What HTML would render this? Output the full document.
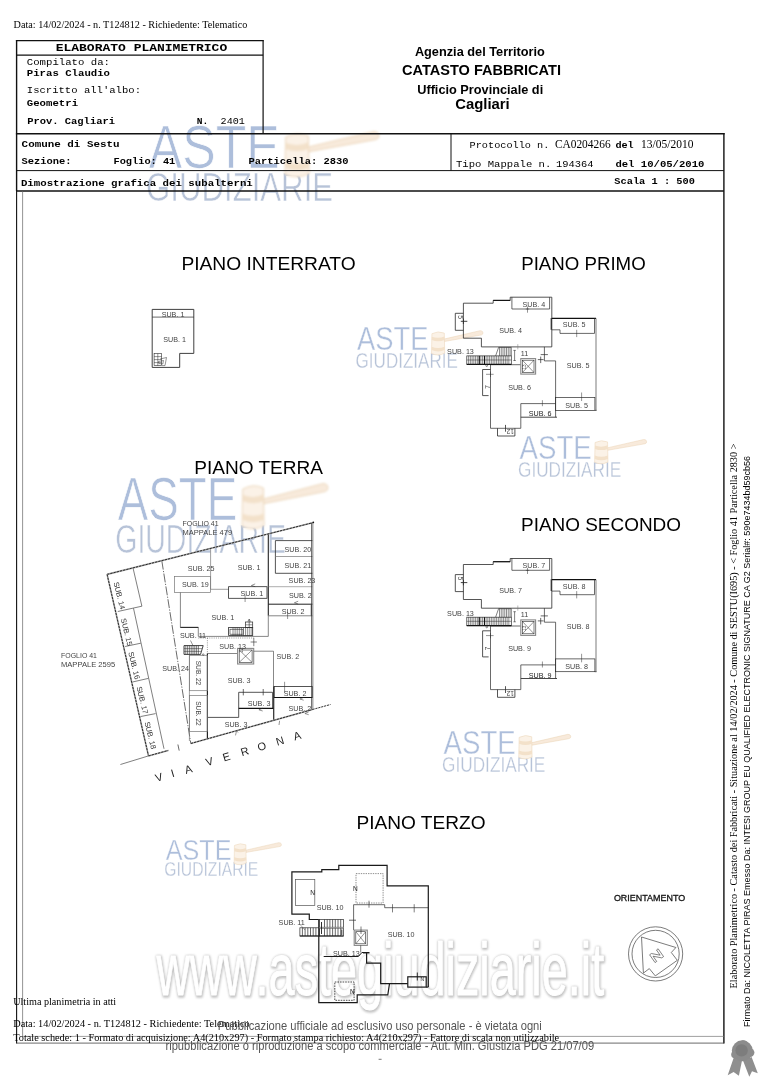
<!DOCTYPE html>
<html lang="it"><head><meta charset="utf-8"><title>Elaborato Planimetrico</title>
<style>html,body{margin:0;padding:0;background:#fff}body{width:764px;height:1080px;overflow:hidden;font-family:"Liberation Sans",sans-serif}svg{will-change:transform}svg text{white-space:pre}</style></head>
<body>
<svg width="764" height="1080" viewBox="0 0 764 1080" style="display:block">
<defs>
<filter id="thin" x="-5%" y="-20%" width="110%" height="140%"><feMorphology operator="erode" radius="0.35"/></filter>
<filter id="soft" x="-10%" y="-10%" width="130%" height="130%"><feGaussianBlur stdDeviation="0.5"/></filter>
<filter id="wsh" x="-5%" y="-20%" width="110%" height="150%"><feGaussianBlur stdDeviation="1.15"/></filter>
</defs>
<rect x="0" y="0" width="764" height="1080" fill="#fff"/>
<g transform="translate(147.7 125.9) scale(1.83 1.87)">
 <text x="0.6" y="22.4" font-family="Liberation Sans, sans-serif" font-size="32.6" fill="#adbedb" textLength="71.5" lengthAdjust="spacingAndGlyphs" stroke="#fff" stroke-width="0.4">ASTE</text>
 <text x="-0.9" y="40.2" font-family="Liberation Sans, sans-serif" font-size="21.8" fill="#b7c3d8" textLength="102.2" lengthAdjust="spacingAndGlyphs" stroke="#fff" stroke-width="0.3">GIUDIZIARIE</text>
 <g filter="url(#soft)" stroke="#ead3b4" stroke-width="0.5">
  <path d="M87.4 11.4 L123.6 3.0 Q127.2 3.2 126.2 6.4 Q125.4 7.4 123 7.6 L87.8 13.8 Z" fill="#f8eadb"/>
  <path d="M75.4 6 Q81.6 2.8 87.8 5.4 L88.2 25.4 Q81.6 29 75 25.8 Z" fill="#fbf2e7"/>
  <path d="M75.3 9 Q81.6 11.4 87.9 8.8 L88 12.4 Q81.6 14.8 75.2 12.4 Z" fill="#f3e1ca" stroke="none"/>
  <path d="M75.1 19 Q81.6 21.4 88.1 19 L88.2 22.4 Q81.6 25 75 22.4 Z" fill="#f3e1ca" stroke="none"/>
 </g>
</g>
<g transform="translate(356.5 327.7) scale(1 1)">
 <text x="0.6" y="22.4" font-family="Liberation Sans, sans-serif" font-size="32.6" fill="#adbedb" textLength="71.5" lengthAdjust="spacingAndGlyphs" stroke="#fff" stroke-width="0.4">ASTE</text>
 <text x="-0.9" y="40.2" font-family="Liberation Sans, sans-serif" font-size="21.8" fill="#b7c3d8" textLength="102.2" lengthAdjust="spacingAndGlyphs" stroke="#fff" stroke-width="0.3">GIUDIZIARIE</text>
 <g filter="url(#soft)" stroke="#ead3b4" stroke-width="0.5">
  <path d="M87.4 11.4 L123.6 3.0 Q127.2 3.2 126.2 6.4 Q125.4 7.4 123 7.6 L87.8 13.8 Z" fill="#f8eadb"/>
  <path d="M75.4 6 Q81.6 2.8 87.8 5.4 L88.2 25.4 Q81.6 29 75 25.8 Z" fill="#fbf2e7"/>
  <path d="M75.3 9 Q81.6 11.4 87.9 8.8 L88 12.4 Q81.6 14.8 75.2 12.4 Z" fill="#f3e1ca" stroke="none"/>
  <path d="M75.1 19 Q81.6 21.4 88.1 19 L88.2 22.4 Q81.6 25 75 22.4 Z" fill="#f3e1ca" stroke="none"/>
 </g>
</g>
<g transform="translate(518.9 436.5) scale(1.01 1)">
 <text x="0.6" y="22.4" font-family="Liberation Sans, sans-serif" font-size="32.6" fill="#adbedb" textLength="71.5" lengthAdjust="spacingAndGlyphs" stroke="#fff" stroke-width="0.4">ASTE</text>
 <text x="-0.9" y="40.2" font-family="Liberation Sans, sans-serif" font-size="21.8" fill="#b7c3d8" textLength="102.2" lengthAdjust="spacingAndGlyphs" stroke="#fff" stroke-width="0.3">GIUDIZIARIE</text>
 <g filter="url(#soft)" stroke="#ead3b4" stroke-width="0.5">
  <path d="M87.4 11.4 L123.6 3.0 Q127.2 3.2 126.2 6.4 Q125.4 7.4 123 7.6 L87.8 13.8 Z" fill="#f8eadb"/>
  <path d="M75.4 6 Q81.6 2.8 87.8 5.4 L88.2 25.4 Q81.6 29 75 25.8 Z" fill="#fbf2e7"/>
  <path d="M75.3 9 Q81.6 11.4 87.9 8.8 L88 12.4 Q81.6 14.8 75.2 12.4 Z" fill="#f3e1ca" stroke="none"/>
  <path d="M75.1 19 Q81.6 21.4 88.1 19 L88.2 22.4 Q81.6 25 75 22.4 Z" fill="#f3e1ca" stroke="none"/>
 </g>
</g>
<g transform="translate(116.8 477.9) scale(1.67 1.87)">
 <text x="0.6" y="22.4" font-family="Liberation Sans, sans-serif" font-size="32.6" fill="#adbedb" textLength="71.5" lengthAdjust="spacingAndGlyphs" stroke="#fff" stroke-width="0.4">ASTE</text>
 <text x="-0.9" y="40.2" font-family="Liberation Sans, sans-serif" font-size="21.8" fill="#b7c3d8" textLength="102.2" lengthAdjust="spacingAndGlyphs" stroke="#fff" stroke-width="0.3">GIUDIZIARIE</text>
 <g filter="url(#soft)" stroke="#ead3b4" stroke-width="0.5">
  <path d="M87.4 11.4 L123.6 3.0 Q127.2 3.2 126.2 6.4 Q125.4 7.4 123 7.6 L87.8 13.8 Z" fill="#f8eadb"/>
  <path d="M75.4 6 Q81.6 2.8 87.8 5.4 L88.2 25.4 Q81.6 29 75 25.8 Z" fill="#fbf2e7"/>
  <path d="M75.3 9 Q81.6 11.4 87.9 8.8 L88 12.4 Q81.6 14.8 75.2 12.4 Z" fill="#f3e1ca" stroke="none"/>
  <path d="M75.1 19 Q81.6 21.4 88.1 19 L88.2 22.4 Q81.6 25 75 22.4 Z" fill="#f3e1ca" stroke="none"/>
 </g>
</g>
<g transform="translate(443 731.3) scale(1.01 1.01)">
 <text x="0.6" y="22.4" font-family="Liberation Sans, sans-serif" font-size="32.6" fill="#adbedb" textLength="71.5" lengthAdjust="spacingAndGlyphs" stroke="#fff" stroke-width="0.4">ASTE</text>
 <text x="-0.9" y="40.2" font-family="Liberation Sans, sans-serif" font-size="21.8" fill="#b7c3d8" textLength="102.2" lengthAdjust="spacingAndGlyphs" stroke="#fff" stroke-width="0.3">GIUDIZIARIE</text>
 <g filter="url(#soft)" stroke="#ead3b4" stroke-width="0.5">
  <path d="M87.4 11.4 L123.6 3.0 Q127.2 3.2 126.2 6.4 Q125.4 7.4 123 7.6 L87.8 13.8 Z" fill="#f8eadb"/>
  <path d="M75.4 6 Q81.6 2.8 87.8 5.4 L88.2 25.4 Q81.6 29 75 25.8 Z" fill="#fbf2e7"/>
  <path d="M75.3 9 Q81.6 11.4 87.9 8.8 L88 12.4 Q81.6 14.8 75.2 12.4 Z" fill="#f3e1ca" stroke="none"/>
  <path d="M75.1 19 Q81.6 21.4 88.1 19 L88.2 22.4 Q81.6 25 75 22.4 Z" fill="#f3e1ca" stroke="none"/>
 </g>
</g>
<g transform="translate(165.1 839.9) scale(0.92 0.91)">
 <text x="0.6" y="22.4" font-family="Liberation Sans, sans-serif" font-size="32.6" fill="#adbedb" textLength="71.5" lengthAdjust="spacingAndGlyphs" stroke="#fff" stroke-width="0.4">ASTE</text>
 <text x="-0.9" y="40.2" font-family="Liberation Sans, sans-serif" font-size="21.8" fill="#b7c3d8" textLength="102.2" lengthAdjust="spacingAndGlyphs" stroke="#fff" stroke-width="0.3">GIUDIZIARIE</text>
 <g filter="url(#soft)" stroke="#ead3b4" stroke-width="0.5">
  <path d="M87.4 11.4 L123.6 3.0 Q127.2 3.2 126.2 6.4 Q125.4 7.4 123 7.6 L87.8 13.8 Z" fill="#f8eadb"/>
  <path d="M75.4 6 Q81.6 2.8 87.8 5.4 L88.2 25.4 Q81.6 29 75 25.8 Z" fill="#fbf2e7"/>
  <path d="M75.3 9 Q81.6 11.4 87.9 8.8 L88 12.4 Q81.6 14.8 75.2 12.4 Z" fill="#f3e1ca" stroke="none"/>
  <path d="M75.1 19 Q81.6 21.4 88.1 19 L88.2 22.4 Q81.6 25 75 22.4 Z" fill="#f3e1ca" stroke="none"/>
 </g>
</g>
<text x="156.9" y="995.7" font-family="Liberation Sans, sans-serif" font-size="74" lengthAdjust="spacingAndGlyphs" stroke-linejoin="round" textLength="100.4" fill="#888" stroke="#888" stroke-width="3.4" opacity="0.5" filter="url(#wsh)">www</text>
<text x="256.1" y="995.7" font-family="Liberation Sans, sans-serif" font-size="74" lengthAdjust="spacingAndGlyphs" stroke-linejoin="round" textLength="348.6" fill="#888" stroke="#888" stroke-width="3.4" opacity="0.5" filter="url(#wsh)">.astegiudiziarie.it</text>
<text x="156.4" y="995" font-family="Liberation Sans, sans-serif" font-size="74" lengthAdjust="spacingAndGlyphs" stroke-linejoin="round" textLength="100.4" fill="#fff" stroke="#fff" stroke-width="0.9">www</text>
<text x="255.6" y="995" font-family="Liberation Sans, sans-serif" font-size="74" lengthAdjust="spacingAndGlyphs" stroke-linejoin="round" textLength="348.6" fill="#fff" stroke="#fff" stroke-width="0.9">.astegiudiziarie.it</text>
<line x1="16.6" y1="40.1" x2="16.6" y2="191" stroke="#111" stroke-width="1.4" />
<line x1="16.6" y1="191" x2="16.6" y2="1043.5" stroke="#111" stroke-width="1.1" />
<line x1="15.9" y1="40.6" x2="263.8" y2="40.6" stroke="#111" stroke-width="1.1" />
<line x1="263.1" y1="40.6" x2="263.1" y2="133.8" stroke="#111" stroke-width="1.2" />
<line x1="16.6" y1="55.1" x2="263.1" y2="55.1" stroke="#111" stroke-width="1.2" />
<line x1="15.9" y1="133.8" x2="724.6" y2="133.8" stroke="#111" stroke-width="1.4" />
<line x1="723.9" y1="133.1" x2="723.9" y2="1043.5" stroke="#111" stroke-width="1.4" />
<line x1="16.6" y1="170.6" x2="723.9" y2="170.6" stroke="#111" stroke-width="1.0" />
<line x1="16.6" y1="191" x2="723.9" y2="191" stroke="#111" stroke-width="1.3" />
<line x1="451" y1="133.8" x2="451" y2="170.6" stroke="#111" stroke-width="1.0" />
<line x1="22.6" y1="191" x2="22.6" y2="1036.4" stroke="#666" stroke-width="0.7" />
<line x1="22.6" y1="1036.4" x2="723.9" y2="1036.4" stroke="#777" stroke-width="0.7" />
<line x1="16.6" y1="1043.1" x2="723.9" y2="1043.1" stroke="#444" stroke-width="0.8" />
<text x="13.6" y="27.6" font-family="Liberation Serif, serif" font-size="9.6" fill="#000" textLength="233.7" lengthAdjust="spacingAndGlyphs" >Data: 14/02/2024 - n. T124812 - Richiedente: Telematico</text>
<text x="55.7" y="51.4" font-family="Liberation Mono, monospace" font-size="10.2" fill="#000" textLength="171.5" lengthAdjust="spacingAndGlyphs" font-weight="bold" >ELABORATO PLANIMETRICO</text>
<text x="26.8" y="65.4" font-family="Liberation Mono, monospace" font-size="8.9" fill="#000" textLength="83.2" lengthAdjust="spacingAndGlyphs" >Compilato da:</text>
<text x="26.8" y="76.4" font-family="Liberation Mono, monospace" font-size="9.2" fill="#000" textLength="83.2" lengthAdjust="spacingAndGlyphs" font-weight="bold" >Piras Claudio</text>
<text x="26.8" y="92.9" font-family="Liberation Mono, monospace" font-size="8.9" fill="#000" textLength="114.2" lengthAdjust="spacingAndGlyphs" >Iscritto all'albo:</text>
<text x="26.8" y="106" font-family="Liberation Mono, monospace" font-size="9.2" fill="#000" textLength="51.3" lengthAdjust="spacingAndGlyphs" font-weight="bold" >Geometri</text>
<text x="27.2" y="123.6" font-family="Liberation Mono, monospace" font-size="9.2" fill="#000" textLength="87.8" lengthAdjust="spacingAndGlyphs" font-weight="bold" >Prov. Cagliari</text>
<text x="196.8" y="123.6" font-family="Liberation Mono, monospace" font-size="9.2" fill="#000" textLength="11.5" lengthAdjust="spacingAndGlyphs" font-weight="bold" >N.</text>
<text x="220.6" y="123.6" font-family="Liberation Mono, monospace" font-size="8.9" fill="#000" textLength="24.2" lengthAdjust="spacingAndGlyphs" >2401</text>
<text x="21.6" y="147.3" font-family="Liberation Mono, monospace" font-size="9.2" fill="#000" textLength="98" lengthAdjust="spacingAndGlyphs" font-weight="bold" >Comune di Sestu</text>
<text x="21.6" y="163.9" font-family="Liberation Mono, monospace" font-size="9.2" fill="#000" textLength="50" lengthAdjust="spacingAndGlyphs" font-weight="bold" >Sezione:</text>
<text x="113.5" y="163.9" font-family="Liberation Mono, monospace" font-size="9.2" fill="#000" textLength="61.8" lengthAdjust="spacingAndGlyphs" font-weight="bold" >Foglio: 41</text>
<text x="248.4" y="163.9" font-family="Liberation Mono, monospace" font-size="9.2" fill="#000" textLength="100" lengthAdjust="spacingAndGlyphs" font-weight="bold" >Particella: 2830</text>
<text x="20.9" y="185.5" font-family="Liberation Mono, monospace" font-size="9.2" fill="#000" textLength="231.9" lengthAdjust="spacingAndGlyphs" font-weight="bold" >Dimostrazione grafica dei subalterni</text>
<text x="479.9" y="56" font-family="Liberation Sans, sans-serif" font-size="12.2" fill="#000" text-anchor="middle" textLength="130" lengthAdjust="spacingAndGlyphs" font-weight="bold" >Agenzia del Territorio</text>
<text x="481.5" y="74.6" font-family="Liberation Sans, sans-serif" font-size="14" fill="#000" text-anchor="middle" textLength="159" lengthAdjust="spacingAndGlyphs" font-weight="bold" >CATASTO FABBRICATI</text>
<text x="480.2" y="93.6" font-family="Liberation Sans, sans-serif" font-size="12.2" fill="#000" text-anchor="middle" textLength="126" lengthAdjust="spacingAndGlyphs" font-weight="bold" >Ufficio Provinciale di</text>
<text x="482.5" y="108.6" font-family="Liberation Sans, sans-serif" font-size="14" fill="#000" text-anchor="middle" textLength="54.5" lengthAdjust="spacingAndGlyphs" font-weight="bold" >Cagliari</text>
<text x="469.6" y="147.8" font-family="Liberation Mono, monospace" font-size="8.9" fill="#000" textLength="79.8" lengthAdjust="spacingAndGlyphs" >Protocollo n.</text>
<text x="554.9" y="147.8" font-family="Liberation Serif, serif" font-size="12.4" fill="#000" textLength="55.7" lengthAdjust="spacingAndGlyphs" >CA0204266</text>
<text x="615.4" y="147.8" font-family="Liberation Mono, monospace" font-size="9.2" fill="#000" textLength="18.3" lengthAdjust="spacingAndGlyphs" font-weight="bold" >del</text>
<text x="641" y="147.8" font-family="Liberation Serif, serif" font-size="12.4" fill="#000" textLength="52.4" lengthAdjust="spacingAndGlyphs" >13/05/2010</text>
<text x="456" y="166.6" font-family="Liberation Mono, monospace" font-size="8.9" fill="#000" textLength="95.3" lengthAdjust="spacingAndGlyphs" >Tipo Mappale n.</text>
<text x="556" y="166.6" font-family="Liberation Mono, monospace" font-size="8.9" fill="#000" textLength="37.4" lengthAdjust="spacingAndGlyphs" >194364</text>
<text x="615.4" y="166.6" font-family="Liberation Mono, monospace" font-size="9.2" fill="#000" textLength="89" lengthAdjust="spacingAndGlyphs" font-weight="bold" >del 10/05/2010</text>
<text x="614.3" y="184.3" font-family="Liberation Mono, monospace" font-size="9.2" fill="#000" textLength="80.6" lengthAdjust="spacingAndGlyphs" font-weight="bold" >Scala 1 : 500</text>
<text x="13.2" y="1004.7" font-family="Liberation Serif, serif" font-size="9.6" fill="#000" textLength="103" lengthAdjust="spacingAndGlyphs" >Ultima planimetria in atti</text>
<text x="13.2" y="1026.7" font-family="Liberation Serif, serif" font-size="9.6" fill="#000" textLength="236.5" lengthAdjust="spacingAndGlyphs" >Data: 14/02/2024 - n. T124812 - Richiedente: Telematico</text>
<text x="13.2" y="1040.7" font-family="Liberation Serif, serif" font-size="9.6" fill="#000" textLength="546" lengthAdjust="spacingAndGlyphs" >Totale schede: 1 - Formato di acquisizione: A4(210x297) - Formato stampa richiesto: A4(210x297) - Fattore di scala non utilizzabile</text>
<text x="379.8" y="1030" font-family="Liberation Sans, sans-serif" font-size="12.6" fill="#555" text-anchor="middle" textLength="324" lengthAdjust="spacingAndGlyphs" >Pubblicazione ufficiale ad esclusivo uso personale - è vietata ogni</text>
<text x="379.8" y="1049.5" font-family="Liberation Sans, sans-serif" font-size="12.6" fill="#555" text-anchor="middle" textLength="428.6" lengthAdjust="spacingAndGlyphs" >ripubblicazione o riproduzione a scopo commerciale - Aut. Min. Giustizia PDG 21/07/09</text>
<line x1="378.6" y1="1059.3" x2="381.6" y2="1059.3" stroke="#555" stroke-width="0.8" />
<text x="737" y="988.4" font-family="Liberation Serif, serif" font-size="10.3" fill="#000" textLength="544.8" lengthAdjust="spacingAndGlyphs" transform="rotate(-90 737 988.4)" >Elaborato Planimetrico - Catasto dei Fabbricati - Situazione al 14/02/2024 - Comune di SESTU(I695) - &lt; Foglio 41 Particella 2830 &gt;</text>
<text x="749.9" y="1027" font-family="Liberation Sans, sans-serif" font-size="9.6" fill="#000" textLength="571" lengthAdjust="spacingAndGlyphs" transform="rotate(-90 749.9 1027)" >Firmato Da: NICOLETTA PIRAS Emesso Da: INTESI GROUP EU QUALIFIED ELECTRONIC SIGNATURE CA G2 Serial#: 590e7434bd59cb56</text>
<text x="181.4" y="270.2" font-family="Liberation Sans, sans-serif" font-size="18.3" fill="#000" textLength="174.3" lengthAdjust="spacingAndGlyphs" >PIANO INTERRATO</text>
<text x="521.2" y="270" font-family="Liberation Sans, sans-serif" font-size="18.3" fill="#000" textLength="124.5" lengthAdjust="spacingAndGlyphs" >PIANO PRIMO</text>
<text x="194.2" y="474.3" font-family="Liberation Sans, sans-serif" font-size="18.3" fill="#000" textLength="128.8" lengthAdjust="spacingAndGlyphs" >PIANO TERRA</text>
<text x="521" y="530.9" font-family="Liberation Sans, sans-serif" font-size="18.3" fill="#000" textLength="160" lengthAdjust="spacingAndGlyphs" >PIANO SECONDO</text>
<text x="356.4" y="828.6" font-family="Liberation Sans, sans-serif" font-size="18.3" fill="#000" textLength="129.2" lengthAdjust="spacingAndGlyphs" >PIANO TERZO</text>
<polygon points="152.2,309.4 193.8,309.4 193.8,353.4 179.7,353.4 179.7,367.4 152.2,367.4" fill="none" stroke="#2a2a2a" stroke-width="0.9" />
<line x1="152.2" y1="317.1" x2="193.8" y2="317.1" stroke="#2a2a2a" stroke-width="0.7" />
<text transform="translate(173 317.47) scale(0.92 1)" x="0" y="0" font-family="Liberation Sans, sans-serif" font-size="7.81" fill="#444" text-anchor="middle">SUB. 1</text>
<text transform="translate(174.6 342.07) scale(0.92 1)" x="0" y="0" font-family="Liberation Sans, sans-serif" font-size="7.81" fill="#444" text-anchor="middle">SUB. 1</text>
<rect x="154.1" y="353.6" width="7.4" height="12" fill="none" stroke="#2a2a2a" stroke-width="0.6" />
<line x1="154.1" y1="356.6" x2="161.5" y2="356.6" stroke="#2a2a2a" stroke-width="0.5" />
<line x1="154.1" y1="359.6" x2="161.5" y2="359.6" stroke="#2a2a2a" stroke-width="0.5" />
<line x1="154.1" y1="362.6" x2="161.5" y2="362.6" stroke="#2a2a2a" stroke-width="0.5" />
<line x1="157.8" y1="353.6" x2="157.8" y2="365.6" stroke="#2a2a2a" stroke-width="0.5" />
<polyline points="160,359 166.5,357.5 165,365.6 161.5,365.6" fill="none" stroke="#2a2a2a" stroke-width="0.5" />
<polygon points="158.5,361.5 163.5,360.5 162.8,364 158.8,363.5" fill="none" stroke="#2a2a2a" stroke-width="0.5" />
<polygon points="463.4,303.2 493.2,303.2 493.2,300.4 510.2,300.4 510.2,297.2 551.8,297.2 551.8,346.9 481.4,346.9 481.4,338.2 463.4,338.2" fill="none" stroke="#2a2a2a" stroke-width="0.8" />
<line x1="493.2" y1="300.4" x2="510.2" y2="300.4" stroke="#111" stroke-width="1.1" />
<polyline points="511.9,297.2 511.9,309 549.6,309 549.6,297.2" fill="none" stroke="#2a2a2a" stroke-width="0.7" />
<polyline points="463.4,313.3 455.3,313.3 455.3,330.3 463.4,330.3" fill="none" stroke="#2a2a2a" stroke-width="0.8" />
<line x1="460.8" y1="321.3" x2="467.3" y2="321.3" stroke="#111" stroke-width="0.8" />
<line x1="463.4" y1="318.5" x2="463.4" y2="324" stroke="#2a2a2a" stroke-width="0.9" />
<text transform="translate(460.2 317) rotate(90)" x="0" y="2.38" font-family="Liberation Sans, sans-serif" font-size="6.6" fill="#444" text-anchor="middle">5</text>
<line x1="551.8" y1="318.3" x2="596" y2="318.3" stroke="#111" stroke-width="1.2" />
<line x1="551.3" y1="318" x2="551.3" y2="329.8" stroke="#333" stroke-width="1.3" />
<polyline points="594.5,318.3 594.5,333.4 560,333.4 560,329.8 551.8,329.8" fill="none" stroke="#2a2a2a" stroke-width="0.7" />
<line x1="596" y1="318.3" x2="596" y2="410.4" stroke="#444" stroke-width="0.7" />
<rect x="555.6" y="397.6" width="39.3" height="12.8" fill="none" stroke="#2a2a2a" stroke-width="0.7" />
<line x1="594.9" y1="410.4" x2="596.6" y2="410.4" stroke="#2a2a2a" stroke-width="0.7" />
<polyline points="544.4,346.9 544.4,360.9 555.6,360.9 555.6,417.2" fill="none" stroke="#2a2a2a" stroke-width="0.7" />
<polyline points="520.8,364.7 490.5,364.7 490.5,428.3 520.8,428.3 520.8,403.6 555.6,403.6" fill="none" stroke="#2a2a2a" stroke-width="0.7" />
<line x1="520.8" y1="417.2" x2="557" y2="417.2" stroke="#333" stroke-width="0.9" />
<rect x="520.8" y="358.6" width="14.8" height="15.5" fill="none" stroke="#888" stroke-width="1.1" />
<rect x="522.4" y="360.2" width="11.6" height="12.3" fill="none" stroke="#2a2a2a" stroke-width="0.6" />
<line x1="522.4" y1="360.2" x2="534" y2="372.5" stroke="#2a2a2a" stroke-width="0.5" />
<line x1="522.4" y1="372.5" x2="534" y2="360.2" stroke="#2a2a2a" stroke-width="0.5" />
<polyline points="497.5,428.3 497.5,436 514.9,436 514.9,428.3" fill="none" stroke="#2a2a2a" stroke-width="0.8" />
<line x1="505.5" y1="424.9" x2="505.5" y2="431.7" stroke="#2a2a2a" stroke-width="0.8" />
<text transform="translate(510.3 431.6) rotate(180)" x="0" y="2.38" font-family="Liberation Sans, sans-serif" font-size="6.6" fill="#444" text-anchor="middle">12</text>
<polyline points="490.5,369.5 482.6,369.5 482.6,395.6 488.6,395.6" fill="none" stroke="#2a2a2a" stroke-width="0.8" />
<line x1="486" y1="374.3" x2="493.6" y2="374.3" stroke="#2a2a2a" stroke-width="0.5" />
<line x1="490.5" y1="371.5" x2="490.5" y2="377" stroke="#2a2a2a" stroke-width="0.5" />
<text transform="translate(487.5 387) rotate(-90)" x="0" y="2.38" font-family="Liberation Sans, sans-serif" font-size="6.6" fill="#444" text-anchor="middle">7</text>
<rect x="466.8" y="355.9" width="44.5" height="8.5" fill="none" stroke="#2a2a2a" stroke-width="0.7" />
<line x1="466.8" y1="364.4" x2="511.3" y2="364.4" stroke="#111" stroke-width="1.2" />
<line x1="466.8" y1="360" x2="511.3" y2="360" stroke="#2a2a2a" stroke-width="0.5" />
<line x1="468.6" y1="355.9" x2="468.6" y2="364.4" stroke="#2a2a2a" stroke-width="0.55" />
<line x1="470.35" y1="355.9" x2="470.35" y2="364.4" stroke="#2a2a2a" stroke-width="0.55" />
<line x1="472.1" y1="355.9" x2="472.1" y2="364.4" stroke="#2a2a2a" stroke-width="0.55" />
<line x1="473.85" y1="355.9" x2="473.85" y2="364.4" stroke="#2a2a2a" stroke-width="0.55" />
<line x1="475.6" y1="355.9" x2="475.6" y2="364.4" stroke="#2a2a2a" stroke-width="0.55" />
<line x1="477.35" y1="355.9" x2="477.35" y2="364.4" stroke="#2a2a2a" stroke-width="0.55" />
<line x1="479.1" y1="355.9" x2="479.1" y2="364.4" stroke="#2a2a2a" stroke-width="0.55" />
<line x1="480.85" y1="355.9" x2="480.85" y2="364.4" stroke="#2a2a2a" stroke-width="0.55" />
<line x1="482.6" y1="355.9" x2="482.6" y2="364.4" stroke="#2a2a2a" stroke-width="0.55" />
<line x1="484.35" y1="355.9" x2="484.35" y2="364.4" stroke="#2a2a2a" stroke-width="0.55" />
<line x1="486.1" y1="355.9" x2="486.1" y2="364.4" stroke="#2a2a2a" stroke-width="0.55" />
<line x1="487.85" y1="355.9" x2="487.85" y2="364.4" stroke="#2a2a2a" stroke-width="0.55" />
<line x1="489.6" y1="355.9" x2="489.6" y2="364.4" stroke="#2a2a2a" stroke-width="0.55" />
<line x1="491.35" y1="355.9" x2="491.35" y2="364.4" stroke="#2a2a2a" stroke-width="0.55" />
<line x1="493.1" y1="355.9" x2="493.1" y2="364.4" stroke="#2a2a2a" stroke-width="0.55" />
<line x1="494.85" y1="355.9" x2="494.85" y2="364.4" stroke="#2a2a2a" stroke-width="0.55" />
<line x1="496.6" y1="355.9" x2="496.6" y2="364.4" stroke="#2a2a2a" stroke-width="0.55" />
<line x1="498.35" y1="355.9" x2="498.35" y2="364.4" stroke="#2a2a2a" stroke-width="0.55" />
<line x1="500.1" y1="355.9" x2="500.1" y2="364.4" stroke="#2a2a2a" stroke-width="0.55" />
<line x1="501.85" y1="355.9" x2="501.85" y2="364.4" stroke="#2a2a2a" stroke-width="0.55" />
<line x1="503.6" y1="355.9" x2="503.6" y2="364.4" stroke="#2a2a2a" stroke-width="0.55" />
<line x1="505.35" y1="355.9" x2="505.35" y2="364.4" stroke="#2a2a2a" stroke-width="0.55" />
<line x1="507.1" y1="355.9" x2="507.1" y2="364.4" stroke="#2a2a2a" stroke-width="0.55" />
<line x1="508.85" y1="355.9" x2="508.85" y2="364.4" stroke="#2a2a2a" stroke-width="0.55" />
<polyline points="495.6,355.9 498.6,347.4 511.3,347.4 511.3,355.9" fill="none" stroke="#2a2a2a" stroke-width="0.6" />
<line x1="499.5" y1="347.4" x2="499.5" y2="355.9" stroke="#2a2a2a" stroke-width="0.55" />
<line x1="501.25" y1="347.4" x2="501.25" y2="355.9" stroke="#2a2a2a" stroke-width="0.55" />
<line x1="503" y1="347.4" x2="503" y2="355.9" stroke="#2a2a2a" stroke-width="0.55" />
<line x1="504.75" y1="347.4" x2="504.75" y2="355.9" stroke="#2a2a2a" stroke-width="0.55" />
<line x1="506.5" y1="347.4" x2="506.5" y2="355.9" stroke="#2a2a2a" stroke-width="0.55" />
<line x1="508.25" y1="347.4" x2="508.25" y2="355.9" stroke="#2a2a2a" stroke-width="0.55" />
<line x1="510" y1="347.4" x2="510" y2="355.9" stroke="#2a2a2a" stroke-width="0.55" />
<line x1="479.3" y1="355.9" x2="479.3" y2="364.4" stroke="#111" stroke-width="1.0" />
<line x1="484.5" y1="355.9" x2="484.5" y2="364.4" stroke="#111" stroke-width="1.0" />
<circle cx="486.7" cy="365.6" r="0.9" fill="none" stroke="#2a2a2a" stroke-width="0.5"/>
<line x1="514.6" y1="350.4" x2="514.6" y2="360.5" stroke="#2a2a2a" stroke-width="0.6" />
<line x1="513.4" y1="350.4" x2="515.8" y2="350.4" stroke="#2a2a2a" stroke-width="0.6" />
<line x1="513.4" y1="360.5" x2="515.8" y2="360.5" stroke="#2a2a2a" stroke-width="0.6" />
<line x1="517.8" y1="344.2" x2="517.8" y2="349.4" stroke="#777" stroke-width="0.5" />
<line x1="527.5" y1="306.5" x2="527.5" y2="312.7" stroke="#2a2a2a" stroke-width="0.5" />
<line x1="525.8" y1="309" x2="529.2" y2="309" stroke="#2a2a2a" stroke-width="0.5" />
<line x1="576.7" y1="329.8" x2="576.7" y2="337.1" stroke="#2a2a2a" stroke-width="0.5" />
<line x1="581.6" y1="392.5" x2="581.6" y2="401" stroke="#2a2a2a" stroke-width="0.5" />
<line x1="542.4" y1="400.2" x2="542.4" y2="406.2" stroke="#2a2a2a" stroke-width="0.5" />
<line x1="540.7" y1="354.6" x2="547.9" y2="354.6" stroke="#2a2a2a" stroke-width="0.7" />
<line x1="540.7" y1="356.6" x2="540.7" y2="363.1" stroke="#2a2a2a" stroke-width="0.7" />
<line x1="537.8" y1="359.6" x2="543.6" y2="359.6" stroke="#2a2a2a" stroke-width="0.7" />
<text transform="translate(533.8 307.27) scale(0.92 1)" x="0" y="0" font-family="Liberation Sans, sans-serif" font-size="7.81" fill="#444" text-anchor="middle">SUB. 4</text>
<text transform="translate(510.7 332.57) scale(0.92 1)" x="0" y="0" font-family="Liberation Sans, sans-serif" font-size="7.81" fill="#444" text-anchor="middle">SUB. 4</text>
<text transform="translate(574.2 327.37) scale(0.92 1)" x="0" y="0" font-family="Liberation Sans, sans-serif" font-size="7.81" fill="#444" text-anchor="middle">SUB. 5</text>
<text transform="translate(578.2 367.57) scale(0.92 1)" x="0" y="0" font-family="Liberation Sans, sans-serif" font-size="7.81" fill="#444" text-anchor="middle">SUB. 5</text>
<text transform="translate(576.7 408.17) scale(0.92 1)" x="0" y="0" font-family="Liberation Sans, sans-serif" font-size="7.81" fill="#444" text-anchor="middle">SUB. 5</text>
<text transform="translate(519.5 389.77) scale(0.92 1)" x="0" y="0" font-family="Liberation Sans, sans-serif" font-size="7.81" fill="#444" text-anchor="middle">SUB. 6</text>
<text transform="translate(540.2 416.37) scale(0.92 1)" x="0" y="0" font-family="Liberation Sans, sans-serif" font-size="7.81" fill="#222" text-anchor="middle">SUB. 6</text>
<text transform="translate(460.5 354.37) scale(0.92 1)" x="0" y="0" font-family="Liberation Sans, sans-serif" font-size="7.81" fill="#444" text-anchor="middle">SUB. 13</text>
<text transform="translate(524.6 355.57) scale(0.92 1)" x="0" y="0" font-family="Liberation Sans, sans-serif" font-size="7.81" fill="#444" text-anchor="middle">11</text>
<text transform="translate(524.8 367) rotate(-90)" x="0" y="1.66" font-family="Liberation Sans, sans-serif" font-size="4.6" fill="#444" text-anchor="middle">13</text>
<polygon points="463.4,564.5 493.2,564.5 493.2,561.7 510.2,561.7 510.2,558.5 551.8,558.5 551.8,608.2 481.4,608.2 481.4,599.5 463.4,599.5" fill="none" stroke="#2a2a2a" stroke-width="0.8" />
<line x1="493.2" y1="561.7" x2="510.2" y2="561.7" stroke="#111" stroke-width="1.1" />
<polyline points="511.9,558.5 511.9,570.3 549.6,570.3 549.6,558.5" fill="none" stroke="#2a2a2a" stroke-width="0.7" />
<polyline points="463.4,574.6 455.3,574.6 455.3,591.6 463.4,591.6" fill="none" stroke="#2a2a2a" stroke-width="0.8" />
<line x1="460.8" y1="582.6" x2="467.3" y2="582.6" stroke="#111" stroke-width="0.8" />
<line x1="463.4" y1="579.8" x2="463.4" y2="585.3" stroke="#2a2a2a" stroke-width="0.9" />
<text transform="translate(460.2 578.3) rotate(90)" x="0" y="2.38" font-family="Liberation Sans, sans-serif" font-size="6.6" fill="#444" text-anchor="middle">5</text>
<line x1="551.8" y1="579.6" x2="596" y2="579.6" stroke="#111" stroke-width="1.2" />
<line x1="551.3" y1="579.3" x2="551.3" y2="591.1" stroke="#333" stroke-width="1.3" />
<polyline points="594.5,579.6 594.5,594.7 560,594.7 560,591.1 551.8,591.1" fill="none" stroke="#2a2a2a" stroke-width="0.7" />
<line x1="596" y1="579.6" x2="596" y2="671.7" stroke="#444" stroke-width="0.7" />
<rect x="555.6" y="658.9" width="39.3" height="12.8" fill="none" stroke="#2a2a2a" stroke-width="0.7" />
<line x1="594.9" y1="671.7" x2="596.6" y2="671.7" stroke="#2a2a2a" stroke-width="0.7" />
<polyline points="544.4,608.2 544.4,622.2 555.6,622.2 555.6,678.5" fill="none" stroke="#2a2a2a" stroke-width="0.7" />
<polyline points="520.8,626 490.5,626 490.5,689.6 520.8,689.6 520.8,664.9 555.6,664.9" fill="none" stroke="#2a2a2a" stroke-width="0.7" />
<line x1="520.8" y1="678.5" x2="557" y2="678.5" stroke="#333" stroke-width="0.9" />
<rect x="520.8" y="619.9" width="14.8" height="15.5" fill="none" stroke="#888" stroke-width="1.1" />
<rect x="522.4" y="621.5" width="11.6" height="12.3" fill="none" stroke="#2a2a2a" stroke-width="0.6" />
<line x1="522.4" y1="621.5" x2="534" y2="633.8" stroke="#2a2a2a" stroke-width="0.5" />
<line x1="522.4" y1="633.8" x2="534" y2="621.5" stroke="#2a2a2a" stroke-width="0.5" />
<polyline points="497.5,689.6 497.5,697.3 514.9,697.3 514.9,689.6" fill="none" stroke="#2a2a2a" stroke-width="0.8" />
<line x1="505.5" y1="686.2" x2="505.5" y2="693" stroke="#2a2a2a" stroke-width="0.8" />
<text transform="translate(510.3 692.9) rotate(180)" x="0" y="2.38" font-family="Liberation Sans, sans-serif" font-size="6.6" fill="#444" text-anchor="middle">12</text>
<polyline points="490.5,630.8 482.6,630.8 482.6,656.9 488.6,656.9" fill="none" stroke="#2a2a2a" stroke-width="0.8" />
<line x1="486" y1="635.6" x2="493.6" y2="635.6" stroke="#2a2a2a" stroke-width="0.5" />
<line x1="490.5" y1="632.8" x2="490.5" y2="638.3" stroke="#2a2a2a" stroke-width="0.5" />
<text transform="translate(487.5 648.3) rotate(-90)" x="0" y="2.38" font-family="Liberation Sans, sans-serif" font-size="6.6" fill="#444" text-anchor="middle">7</text>
<rect x="466.8" y="617.2" width="44.5" height="8.5" fill="none" stroke="#2a2a2a" stroke-width="0.7" />
<line x1="466.8" y1="625.7" x2="511.3" y2="625.7" stroke="#111" stroke-width="1.2" />
<line x1="466.8" y1="621.3" x2="511.3" y2="621.3" stroke="#2a2a2a" stroke-width="0.5" />
<line x1="468.6" y1="617.2" x2="468.6" y2="625.7" stroke="#2a2a2a" stroke-width="0.55" />
<line x1="470.35" y1="617.2" x2="470.35" y2="625.7" stroke="#2a2a2a" stroke-width="0.55" />
<line x1="472.1" y1="617.2" x2="472.1" y2="625.7" stroke="#2a2a2a" stroke-width="0.55" />
<line x1="473.85" y1="617.2" x2="473.85" y2="625.7" stroke="#2a2a2a" stroke-width="0.55" />
<line x1="475.6" y1="617.2" x2="475.6" y2="625.7" stroke="#2a2a2a" stroke-width="0.55" />
<line x1="477.35" y1="617.2" x2="477.35" y2="625.7" stroke="#2a2a2a" stroke-width="0.55" />
<line x1="479.1" y1="617.2" x2="479.1" y2="625.7" stroke="#2a2a2a" stroke-width="0.55" />
<line x1="480.85" y1="617.2" x2="480.85" y2="625.7" stroke="#2a2a2a" stroke-width="0.55" />
<line x1="482.6" y1="617.2" x2="482.6" y2="625.7" stroke="#2a2a2a" stroke-width="0.55" />
<line x1="484.35" y1="617.2" x2="484.35" y2="625.7" stroke="#2a2a2a" stroke-width="0.55" />
<line x1="486.1" y1="617.2" x2="486.1" y2="625.7" stroke="#2a2a2a" stroke-width="0.55" />
<line x1="487.85" y1="617.2" x2="487.85" y2="625.7" stroke="#2a2a2a" stroke-width="0.55" />
<line x1="489.6" y1="617.2" x2="489.6" y2="625.7" stroke="#2a2a2a" stroke-width="0.55" />
<line x1="491.35" y1="617.2" x2="491.35" y2="625.7" stroke="#2a2a2a" stroke-width="0.55" />
<line x1="493.1" y1="617.2" x2="493.1" y2="625.7" stroke="#2a2a2a" stroke-width="0.55" />
<line x1="494.85" y1="617.2" x2="494.85" y2="625.7" stroke="#2a2a2a" stroke-width="0.55" />
<line x1="496.6" y1="617.2" x2="496.6" y2="625.7" stroke="#2a2a2a" stroke-width="0.55" />
<line x1="498.35" y1="617.2" x2="498.35" y2="625.7" stroke="#2a2a2a" stroke-width="0.55" />
<line x1="500.1" y1="617.2" x2="500.1" y2="625.7" stroke="#2a2a2a" stroke-width="0.55" />
<line x1="501.85" y1="617.2" x2="501.85" y2="625.7" stroke="#2a2a2a" stroke-width="0.55" />
<line x1="503.6" y1="617.2" x2="503.6" y2="625.7" stroke="#2a2a2a" stroke-width="0.55" />
<line x1="505.35" y1="617.2" x2="505.35" y2="625.7" stroke="#2a2a2a" stroke-width="0.55" />
<line x1="507.1" y1="617.2" x2="507.1" y2="625.7" stroke="#2a2a2a" stroke-width="0.55" />
<line x1="508.85" y1="617.2" x2="508.85" y2="625.7" stroke="#2a2a2a" stroke-width="0.55" />
<polyline points="495.6,617.2 498.6,608.7 511.3,608.7 511.3,617.2" fill="none" stroke="#2a2a2a" stroke-width="0.6" />
<line x1="499.5" y1="608.7" x2="499.5" y2="617.2" stroke="#2a2a2a" stroke-width="0.55" />
<line x1="501.25" y1="608.7" x2="501.25" y2="617.2" stroke="#2a2a2a" stroke-width="0.55" />
<line x1="503" y1="608.7" x2="503" y2="617.2" stroke="#2a2a2a" stroke-width="0.55" />
<line x1="504.75" y1="608.7" x2="504.75" y2="617.2" stroke="#2a2a2a" stroke-width="0.55" />
<line x1="506.5" y1="608.7" x2="506.5" y2="617.2" stroke="#2a2a2a" stroke-width="0.55" />
<line x1="508.25" y1="608.7" x2="508.25" y2="617.2" stroke="#2a2a2a" stroke-width="0.55" />
<line x1="510" y1="608.7" x2="510" y2="617.2" stroke="#2a2a2a" stroke-width="0.55" />
<line x1="479.3" y1="617.2" x2="479.3" y2="625.7" stroke="#111" stroke-width="1.0" />
<line x1="484.5" y1="617.2" x2="484.5" y2="625.7" stroke="#111" stroke-width="1.0" />
<circle cx="486.7" cy="626.9" r="0.9" fill="none" stroke="#2a2a2a" stroke-width="0.5"/>
<line x1="514.6" y1="611.7" x2="514.6" y2="621.8" stroke="#2a2a2a" stroke-width="0.6" />
<line x1="513.4" y1="611.7" x2="515.8" y2="611.7" stroke="#2a2a2a" stroke-width="0.6" />
<line x1="513.4" y1="621.8" x2="515.8" y2="621.8" stroke="#2a2a2a" stroke-width="0.6" />
<line x1="517.8" y1="605.5" x2="517.8" y2="610.7" stroke="#777" stroke-width="0.5" />
<line x1="527.5" y1="567.8" x2="527.5" y2="574" stroke="#2a2a2a" stroke-width="0.5" />
<line x1="525.8" y1="570.3" x2="529.2" y2="570.3" stroke="#2a2a2a" stroke-width="0.5" />
<line x1="576.7" y1="591.1" x2="576.7" y2="598.4" stroke="#2a2a2a" stroke-width="0.5" />
<line x1="581.6" y1="653.8" x2="581.6" y2="662.3" stroke="#2a2a2a" stroke-width="0.5" />
<line x1="542.4" y1="661.5" x2="542.4" y2="667.5" stroke="#2a2a2a" stroke-width="0.5" />
<line x1="540.7" y1="615.9" x2="547.9" y2="615.9" stroke="#2a2a2a" stroke-width="0.7" />
<line x1="540.7" y1="617.9" x2="540.7" y2="624.4" stroke="#2a2a2a" stroke-width="0.7" />
<line x1="537.8" y1="620.9" x2="543.6" y2="620.9" stroke="#2a2a2a" stroke-width="0.7" />
<text transform="translate(533.8 567.67) scale(0.92 1)" x="0" y="0" font-family="Liberation Sans, sans-serif" font-size="7.81" fill="#444" text-anchor="middle">SUB. 7</text>
<text transform="translate(510.7 592.97) scale(0.92 1)" x="0" y="0" font-family="Liberation Sans, sans-serif" font-size="7.81" fill="#444" text-anchor="middle">SUB. 7</text>
<text transform="translate(574.2 588.67) scale(0.92 1)" x="0" y="0" font-family="Liberation Sans, sans-serif" font-size="7.81" fill="#444" text-anchor="middle">SUB. 8</text>
<text transform="translate(578.2 628.87) scale(0.92 1)" x="0" y="0" font-family="Liberation Sans, sans-serif" font-size="7.81" fill="#444" text-anchor="middle">SUB. 8</text>
<text transform="translate(576.7 669.47) scale(0.92 1)" x="0" y="0" font-family="Liberation Sans, sans-serif" font-size="7.81" fill="#444" text-anchor="middle">SUB. 8</text>
<text transform="translate(519.5 651.07) scale(0.92 1)" x="0" y="0" font-family="Liberation Sans, sans-serif" font-size="7.81" fill="#444" text-anchor="middle">SUB. 9</text>
<text transform="translate(540.2 677.67) scale(0.92 1)" x="0" y="0" font-family="Liberation Sans, sans-serif" font-size="7.81" fill="#222" text-anchor="middle">SUB. 9</text>
<text transform="translate(460.5 615.67) scale(0.92 1)" x="0" y="0" font-family="Liberation Sans, sans-serif" font-size="7.81" fill="#444" text-anchor="middle">SUB. 13</text>
<text transform="translate(524.6 616.87) scale(0.92 1)" x="0" y="0" font-family="Liberation Sans, sans-serif" font-size="7.81" fill="#444" text-anchor="middle">11</text>
<text transform="translate(524.8 628.3) rotate(-90)" x="0" y="1.66" font-family="Liberation Sans, sans-serif" font-size="4.6" fill="#444" text-anchor="middle">13</text>
<polyline points="133,567.9 141.9,606.2 117.8,611.5" fill="none" stroke="#2a2a2a" stroke-width="0.6" />
<line x1="133.5" y1="608.3" x2="164" y2="748.8" stroke="#2a2a2a" stroke-width="0.6" />
<line x1="125.1" y1="646.5" x2="140.8" y2="643.2" stroke="#2a2a2a" stroke-width="0.6" />
<line x1="132.5" y1="682" x2="148.3" y2="678.4" stroke="#2a2a2a" stroke-width="0.6" />
<line x1="140.3" y1="716.6" x2="155.6" y2="713.6" stroke="#2a2a2a" stroke-width="0.6" />
<line x1="148.5" y1="755.9" x2="120.4" y2="764.5" stroke="#2a2a2a" stroke-width="0.6" />
<line x1="161.8" y1="560.7" x2="190.8" y2="743.5" stroke="#2a2a2a" stroke-width="0.7" stroke-dasharray="9 1.4 1.2 1.4"/>
<line x1="177.9" y1="744.5" x2="179.2" y2="750.6" stroke="#2a2a2a" stroke-width="0.7" />
<line x1="210.6" y1="548.4" x2="210.6" y2="589.3" stroke="#777" stroke-width="0.7" />
<rect x="174.4" y="576.5" width="36.2" height="16" fill="none" stroke="#777" stroke-width="0.7" />
<line x1="210.6" y1="589.3" x2="228.6" y2="589.3" stroke="#777" stroke-width="0.7" />
<rect x="228.6" y="586.7" width="38.4" height="11.6" fill="none" stroke="#2a2a2a" stroke-width="0.8" />
<line x1="268.3" y1="533.9" x2="268.3" y2="615.8" stroke="#222" stroke-width="1.1" />
<polyline points="312.5,540.6 275.4,540.6 275.4,573.3 312.5,573.3" fill="none" stroke="#2a2a2a" stroke-width="0.8" />
<line x1="275.4" y1="556.5" x2="312.5" y2="556.5" stroke="#777" stroke-width="0.7" />
<line x1="268.3" y1="586.7" x2="312.5" y2="586.7" stroke="#777" stroke-width="0.6" />
<line x1="268.3" y1="604.2" x2="312.5" y2="604.2" stroke="#222" stroke-width="1.0" />
<line x1="268.3" y1="615.8" x2="312.5" y2="615.8" stroke="#777" stroke-width="0.9" />
<line x1="311.3" y1="604.2" x2="311.3" y2="615.8" stroke="#777" stroke-width="1.2" />
<polyline points="180.4,592.5 180.4,627.4 198.3,627.4 198.3,636.4 268.3,636.4 268.3,615.8" fill="none" stroke="#555" stroke-width="0.7" />
<line x1="180.4" y1="627.4" x2="198.3" y2="627.4" stroke="#222" stroke-width="1.0" />
<line x1="198.3" y1="638" x2="253.8" y2="638" stroke="#555" stroke-width="0.6" stroke-dasharray="1 1.2"/>
<line x1="207.4" y1="638" x2="207.4" y2="653.5" stroke="#555" stroke-width="0.6" stroke-dasharray="1 1.2"/>
<line x1="207.4" y1="653.5" x2="237.6" y2="653.5" stroke="#555" stroke-width="0.7" />
<rect x="237.6" y="648.4" width="16.1" height="15.6" fill="none" stroke="#888" stroke-width="1.1" />
<rect x="239.2" y="650" width="12.9" height="12.4" fill="none" stroke="#2a2a2a" stroke-width="0.6" />
<line x1="239.2" y1="650" x2="252.1" y2="662.4" stroke="#2a2a2a" stroke-width="0.5" />
<line x1="239.2" y1="662.4" x2="252.1" y2="650" stroke="#2a2a2a" stroke-width="0.5" />
<polyline points="253.7,651.2 273.5,651.2 273.5,720.4" fill="none" stroke="#555" stroke-width="0.7" />
<line x1="207.4" y1="653.5" x2="207.4" y2="738.9" stroke="#222" stroke-width="1.2" />
<polyline points="207.4,717.4 238.7,717.4 238.7,692.3 272.6,692.3 272.6,708.4" fill="none" stroke="#2a2a2a" stroke-width="0.8" />
<line x1="238.7" y1="708.4" x2="273.5" y2="708.4" stroke="#111" stroke-width="1.1" />
<rect x="274.1" y="686.6" width="38.4" height="10.9" fill="none" stroke="#2a2a2a" stroke-width="0.8" />
<line x1="274.1" y1="697.5" x2="312.5" y2="697.5" stroke="#111" stroke-width="1.1" />
<line x1="273.8" y1="686.6" x2="273.8" y2="720" stroke="#222" stroke-width="1.0" />
<line x1="189.4" y1="655.3" x2="189.4" y2="741" stroke="#777" stroke-width="0.7" />
<rect x="189.4" y="655.3" width="18" height="35.4" fill="none" stroke="#777" stroke-width="0.7" />
<rect x="189.4" y="695.4" width="18" height="36.1" fill="none" stroke="#777" stroke-width="0.7" />
<polygon points="184,645.6 203.2,645.6 200.5,654.4 184,654.4" fill="none" stroke="#111" stroke-width="0.8" />
<line x1="185.8" y1="645.6" x2="185.8" y2="654.4" stroke="#2a2a2a" stroke-width="0.6" />
<line x1="187.6" y1="645.6" x2="187.6" y2="654.4" stroke="#2a2a2a" stroke-width="0.6" />
<line x1="189.4" y1="645.6" x2="189.4" y2="654.4" stroke="#2a2a2a" stroke-width="0.6" />
<line x1="191.2" y1="645.6" x2="191.2" y2="654.4" stroke="#2a2a2a" stroke-width="0.6" />
<line x1="193" y1="645.6" x2="193" y2="654.4" stroke="#2a2a2a" stroke-width="0.6" />
<line x1="194.8" y1="645.6" x2="194.8" y2="654.4" stroke="#2a2a2a" stroke-width="0.6" />
<line x1="196.6" y1="645.6" x2="196.6" y2="654.4" stroke="#2a2a2a" stroke-width="0.6" />
<line x1="198.4" y1="645.6" x2="198.4" y2="654.4" stroke="#2a2a2a" stroke-width="0.6" />
<line x1="184" y1="648.6" x2="202" y2="648.6" stroke="#2a2a2a" stroke-width="0.5" />
<line x1="184" y1="651.4" x2="201" y2="651.4" stroke="#2a2a2a" stroke-width="0.5" />
<line x1="190.5" y1="640.5" x2="193" y2="645.6" stroke="#2a2a2a" stroke-width="0.5" />
<circle cx="203.2" cy="654.6" r="0.8" fill="none" stroke="#2a2a2a" stroke-width="0.5"/>
<rect x="228.6" y="627.6" width="24.1" height="8" fill="none" stroke="#2a2a2a" stroke-width="0.8" />
<rect x="230" y="629.2" width="13" height="5" fill="none" stroke="#2a2a2a" stroke-width="0.6" />
<line x1="233" y1="627.6" x2="233" y2="635.6" stroke="#2a2a2a" stroke-width="0.55" />
<line x1="235.1" y1="627.6" x2="235.1" y2="635.6" stroke="#2a2a2a" stroke-width="0.55" />
<line x1="237.2" y1="627.6" x2="237.2" y2="635.6" stroke="#2a2a2a" stroke-width="0.55" />
<line x1="239.3" y1="627.6" x2="239.3" y2="635.6" stroke="#2a2a2a" stroke-width="0.55" />
<line x1="241.4" y1="627.6" x2="241.4" y2="635.6" stroke="#2a2a2a" stroke-width="0.55" />
<line x1="243.5" y1="627.6" x2="243.5" y2="635.6" stroke="#2a2a2a" stroke-width="0.55" />
<line x1="245.6" y1="627.6" x2="245.6" y2="635.6" stroke="#2a2a2a" stroke-width="0.55" />
<line x1="247.7" y1="627.6" x2="247.7" y2="635.6" stroke="#2a2a2a" stroke-width="0.55" />
<line x1="249.8" y1="627.6" x2="249.8" y2="635.6" stroke="#2a2a2a" stroke-width="0.55" />
<line x1="251.9" y1="627.6" x2="251.9" y2="635.6" stroke="#2a2a2a" stroke-width="0.55" />
<rect x="245.6" y="622" width="7.1" height="5.6" fill="none" stroke="#2a2a2a" stroke-width="0.7" />
<line x1="245.6" y1="624.8" x2="252.7" y2="624.8" stroke="#2a2a2a" stroke-width="0.5" />
<line x1="249.2" y1="619.5" x2="249.2" y2="627.6" stroke="#2a2a2a" stroke-width="0.6" />
<polyline points="247.8,621.5 249.2,619 250.5,621.5" fill="none" stroke="#2a2a2a" stroke-width="0.5" />
<line x1="245.1" y1="595" x2="245.1" y2="602" stroke="#2a2a2a" stroke-width="0.5" />
<line x1="287.6" y1="612" x2="287.6" y2="619" stroke="#2a2a2a" stroke-width="0.5" />
<line x1="243.3" y1="689" x2="243.3" y2="695.4" stroke="#2a2a2a" stroke-width="0.7" />
<line x1="263.2" y1="689" x2="263.2" y2="695.4" stroke="#2a2a2a" stroke-width="0.7" />
<line x1="284.6" y1="681.8" x2="284.6" y2="692.3" stroke="#2a2a2a" stroke-width="0.5" />
<line x1="250.6" y1="642" x2="256.9" y2="642" stroke="#2a2a2a" stroke-width="0.6" />
<line x1="253.8" y1="637.8" x2="253.8" y2="646.2" stroke="#2a2a2a" stroke-width="0.6" />
<polyline points="255.2,583.9 251.4,585.5 255.2,586.7" fill="none" stroke="#2a2a2a" stroke-width="0.5" />
<polyline points="298.2,601.2 294.4,602.8 298.2,604" fill="none" stroke="#2a2a2a" stroke-width="0.5" />
<polyline points="262.7,708.2 258.9,709.8 262.7,711" fill="none" stroke="#2a2a2a" stroke-width="0.5" />
<polyline points="303.7,697.4 299.9,699 303.7,700.2" fill="none" stroke="#2a2a2a" stroke-width="0.5" />
<polyline points="308.7,711.9 304.9,713.5 308.7,714.7" fill="none" stroke="#2a2a2a" stroke-width="0.5" />
<polyline points="235.5,735.4 236.6,730.5 238,732.5" fill="none" stroke="#2a2a2a" stroke-width="0.5" />
<polyline points="279,725 279.6,720.8" fill="none" stroke="#2a2a2a" stroke-width="0.5" />
<line x1="107.1" y1="574.4" x2="312.5" y2="522.8" stroke="#a8a8a8" stroke-width="1.6" />
<line x1="107.1" y1="574.4" x2="312.5" y2="522.8" stroke="#1c1c1c" stroke-width="0.9" stroke-dasharray="2.3 1"/>
<line x1="313.1" y1="522.8" x2="313.1" y2="709.3" stroke="#b5b5b5" stroke-width="1.0" />
<line x1="311.8" y1="522.8" x2="311.8" y2="709.8" stroke="#222" stroke-width="0.9" />
<line x1="190.8" y1="743.5" x2="312.5" y2="709.5" stroke="#a8a8a8" stroke-width="1.6" />
<line x1="190.8" y1="743.5" x2="312.5" y2="709.5" stroke="#1c1c1c" stroke-width="0.9" stroke-dasharray="2.3 1"/>
<line x1="107.1" y1="574.4" x2="148.5" y2="755.9" stroke="#a8a8a8" stroke-width="1.6" />
<line x1="107.1" y1="574.4" x2="148.5" y2="755.9" stroke="#1c1c1c" stroke-width="0.9" stroke-dasharray="2.3 1"/>
<line x1="148.5" y1="755.9" x2="168.3" y2="750.4" stroke="#a8a8a8" stroke-width="1.6" />
<line x1="148.5" y1="755.9" x2="168.3" y2="750.4" stroke="#1c1c1c" stroke-width="0.9" stroke-dasharray="2.3 1"/>
<line x1="312.5" y1="709.5" x2="330.5" y2="704.5" stroke="#333" stroke-width="1.0" stroke-dasharray="2.2 0.8"/>
<circle cx="313.3" cy="522.3" r="0.9" fill="#111"/>
<text x="182.6" y="525.5" font-family="Liberation Sans, sans-serif" font-size="7.8" fill="#444" textLength="36" lengthAdjust="spacingAndGlyphs" >FOGLIO 41</text>
<text x="182.6" y="534.7" font-family="Liberation Sans, sans-serif" font-size="7.8" fill="#444" textLength="49.5" lengthAdjust="spacingAndGlyphs" >MAPPALE 479</text>
<text x="61" y="658.2" font-family="Liberation Sans, sans-serif" font-size="7.8" fill="#444" textLength="36" lengthAdjust="spacingAndGlyphs" >FOGLIO 41</text>
<text x="61" y="667.3" font-family="Liberation Sans, sans-serif" font-size="7.8" fill="#444" textLength="54.2" lengthAdjust="spacingAndGlyphs" >MAPPALE 2595</text>
<text transform="translate(201.1 570.67) scale(0.92 1)" x="0" y="0" font-family="Liberation Sans, sans-serif" font-size="7.81" fill="#444" text-anchor="middle">SUB. 25</text>
<text transform="translate(195.4 587.47) scale(0.92 1)" x="0" y="0" font-family="Liberation Sans, sans-serif" font-size="7.81" fill="#444" text-anchor="middle">SUB. 19</text>
<text transform="translate(249 569.77) scale(0.92 1)" x="0" y="0" font-family="Liberation Sans, sans-serif" font-size="7.81" fill="#444" text-anchor="middle">SUB. 1</text>
<text transform="translate(251.9 596.07) scale(0.92 1)" x="0" y="0" font-family="Liberation Sans, sans-serif" font-size="7.81" fill="#444" text-anchor="middle">SUB. 1</text>
<text transform="translate(222.8 620.07) scale(0.92 1)" x="0" y="0" font-family="Liberation Sans, sans-serif" font-size="7.81" fill="#444" text-anchor="middle">SUB. 1</text>
<text transform="translate(193 638.47) scale(0.92 1)" x="0" y="0" font-family="Liberation Sans, sans-serif" font-size="7.81" fill="#444" text-anchor="middle">SUB. 11</text>
<text transform="translate(232.6 648.67) scale(0.92 1)" x="0" y="0" font-family="Liberation Sans, sans-serif" font-size="7.81" fill="#444" text-anchor="middle">SUB. 13</text>
<text transform="translate(175.7 670.77) scale(0.92 1)" x="0" y="0" font-family="Liberation Sans, sans-serif" font-size="7.81" fill="#444" text-anchor="middle">SUB. 24</text>
<text transform="translate(297.8 551.87) scale(0.92 1)" x="0" y="0" font-family="Liberation Sans, sans-serif" font-size="7.81" fill="#444" text-anchor="middle">SUB. 20</text>
<text transform="translate(297.8 567.77) scale(0.92 1)" x="0" y="0" font-family="Liberation Sans, sans-serif" font-size="7.81" fill="#444" text-anchor="middle">SUB. 21</text>
<text transform="translate(302 583.37) scale(0.92 1)" x="0" y="0" font-family="Liberation Sans, sans-serif" font-size="7.81" fill="#444" text-anchor="middle">SUB. 23</text>
<text transform="translate(300.4 597.77) scale(0.92 1)" x="0" y="0" font-family="Liberation Sans, sans-serif" font-size="7.81" fill="#444" text-anchor="middle">SUB. 2</text>
<text transform="translate(293.2 614.17) scale(0.92 1)" x="0" y="0" font-family="Liberation Sans, sans-serif" font-size="7.81" fill="#444" text-anchor="middle">SUB. 2</text>
<text transform="translate(287.9 658.77) scale(0.92 1)" x="0" y="0" font-family="Liberation Sans, sans-serif" font-size="7.81" fill="#444" text-anchor="middle">SUB. 2</text>
<text transform="translate(239.1 682.87) scale(0.92 1)" x="0" y="0" font-family="Liberation Sans, sans-serif" font-size="7.81" fill="#444" text-anchor="middle">SUB. 3</text>
<text transform="translate(259 705.77) scale(0.92 1)" x="0" y="0" font-family="Liberation Sans, sans-serif" font-size="7.81" fill="#444" text-anchor="middle">SUB. 3</text>
<text transform="translate(295 695.97) scale(0.92 1)" x="0" y="0" font-family="Liberation Sans, sans-serif" font-size="7.81" fill="#444" text-anchor="middle">SUB. 2</text>
<text transform="translate(299.8 710.77) scale(0.92 1)" x="0" y="0" font-family="Liberation Sans, sans-serif" font-size="7.81" fill="#444" text-anchor="middle">SUB. 2</text>
<text transform="translate(236 726.87) scale(0.92 1)" x="0" y="0" font-family="Liberation Sans, sans-serif" font-size="7.81" fill="#444" text-anchor="middle">SUB. 3</text>
<text transform="translate(198.6 673) rotate(90)" x="0" y="2.38" font-family="Liberation Sans, sans-serif" font-size="6.6" fill="#444" text-anchor="middle">SUB. 22</text>
<text transform="translate(198.6 713.5) rotate(90)" x="0" y="2.38" font-family="Liberation Sans, sans-serif" font-size="6.6" fill="#444" text-anchor="middle">SUB. 22</text>
<text transform="translate(241 650.3) rotate(-90)" x="0" y="1.66" font-family="Liberation Sans, sans-serif" font-size="4.6" fill="#444" text-anchor="middle">12</text>
<text transform="translate(119.6 595.6) rotate(76)" x="0" y="2.7" font-family="Liberation Sans, sans-serif" font-size="7.5" fill="#333" text-anchor="middle">SUB. 14</text>
<text transform="translate(126.8 632) rotate(76)" x="0" y="2.7" font-family="Liberation Sans, sans-serif" font-size="7.5" fill="#333" text-anchor="middle">SUB. 15</text>
<text transform="translate(134.2 665.5) rotate(76)" x="0" y="2.7" font-family="Liberation Sans, sans-serif" font-size="7.5" fill="#333" text-anchor="middle">SUB. 16</text>
<text transform="translate(142.4 700.1) rotate(76)" x="0" y="2.7" font-family="Liberation Sans, sans-serif" font-size="7.5" fill="#333" text-anchor="middle">SUB. 17</text>
<text transform="translate(150.6 735.4) rotate(76)" x="0" y="2.7" font-family="Liberation Sans, sans-serif" font-size="7.5" fill="#333" text-anchor="middle">SUB. 18</text>
<text transform="translate(158.8 777.1) rotate(-16.7)" x="0" y="3.96" font-family="Liberation Sans, sans-serif" font-size="11" fill="#222" text-anchor="middle">V</text>
<text transform="translate(172.7 773.1) rotate(-16.7)" x="0" y="3.96" font-family="Liberation Sans, sans-serif" font-size="11" fill="#222" text-anchor="middle">I</text>
<text transform="translate(188.4 769.2) rotate(-16.7)" x="0" y="3.96" font-family="Liberation Sans, sans-serif" font-size="11" fill="#222" text-anchor="middle">A</text>
<text transform="translate(209.4 761.4) rotate(-16.7)" x="0" y="3.96" font-family="Liberation Sans, sans-serif" font-size="11" fill="#222" text-anchor="middle">V</text>
<text transform="translate(226.4 756.6) rotate(-16.7)" x="0" y="3.96" font-family="Liberation Sans, sans-serif" font-size="11" fill="#222" text-anchor="middle">E</text>
<text transform="translate(244.7 751.4) rotate(-16.7)" x="0" y="3.96" font-family="Liberation Sans, sans-serif" font-size="11" fill="#222" text-anchor="middle">R</text>
<text transform="translate(261.7 746.2) rotate(-16.7)" x="0" y="3.96" font-family="Liberation Sans, sans-serif" font-size="11" fill="#222" text-anchor="middle">O</text>
<text transform="translate(280 740.9) rotate(-16.7)" x="0" y="3.96" font-family="Liberation Sans, sans-serif" font-size="11" fill="#222" text-anchor="middle">N</text>
<text transform="translate(297.1 735.7) rotate(-16.7)" x="0" y="3.96" font-family="Liberation Sans, sans-serif" font-size="11" fill="#222" text-anchor="middle">A</text>
<polyline points="318.8,919.5 309.3,919.5 309.3,914.1 291.9,914.1 291.9,871.9 321.8,871.9 321.8,869.6 338.8,869.6 338.8,865.3 387.1,865.3 387.1,885.8 428.3,885.8 428.3,987.1" fill="none" stroke="#1a1a1a" stroke-width="1.2" />
<polyline points="318.8,919.5 318.8,1002.7 357.2,1002.7 357.2,994.9 387.8,994.9 389.5,983.6" fill="none" stroke="#1a1a1a" stroke-width="1.2" />
<polyline points="366.6,952.5 366.6,963.1 380.7,963.1 380.7,983.6 407.8,983.6" fill="none" stroke="#1a1a1a" stroke-width="1.2" />
<rect x="407.8" y="976.8" width="18.4" height="10.3" fill="none" stroke="#1a1a1a" stroke-width="1.2" />
<line x1="426.2" y1="987.1" x2="428.3" y2="987.1" stroke="#1a1a1a" stroke-width="1.2" />
<polyline points="353.6,930.1 353.6,904.7 384.7,904.7 384.7,907.7 428.3,907.7" fill="none" stroke="#2a2a2a" stroke-width="0.7" />
<rect x="354.2" y="930.1" width="13.1" height="15.3" fill="none" stroke="#888" stroke-width="1.1" />
<rect x="355.8" y="931.7" width="9.9" height="12.1" fill="none" stroke="#2a2a2a" stroke-width="0.6" />
<line x1="355.8" y1="931.7" x2="365.7" y2="943.8" stroke="#2a2a2a" stroke-width="0.5" />
<line x1="355.8" y1="943.8" x2="365.7" y2="931.7" stroke="#2a2a2a" stroke-width="0.5" />
<polyline points="323.7,956.5 358.4,956.5 361.9,952.5 369.5,952.5" fill="none" stroke="#1a1a1a" stroke-width="1.0" />
<line x1="360.7" y1="945.4" x2="360.7" y2="952.5" stroke="#2a2a2a" stroke-width="0.6" />
<rect x="295.4" y="879.5" width="19.4" height="25.9" fill="none" stroke="#555" stroke-width="0.7" />
<rect x="356" y="873.6" width="27.1" height="29.4" fill="none" stroke="#444" stroke-width="0.6" stroke-dasharray="1.4 1"/>
<rect x="334.8" y="982" width="19.3" height="18.3" fill="none" stroke="#222" stroke-width="0.8" stroke-dasharray="1.6 1"/>
<rect x="299.9" y="927.8" width="19.6" height="8.2" fill="none" stroke="#2a2a2a" stroke-width="0.7" />
<line x1="302.4" y1="927.8" x2="302.4" y2="936" stroke="#2a2a2a" stroke-width="0.7" />
<line x1="305.1" y1="927.8" x2="305.1" y2="936" stroke="#2a2a2a" stroke-width="0.7" />
<line x1="307.8" y1="927.8" x2="307.8" y2="936" stroke="#2a2a2a" stroke-width="0.7" />
<line x1="310.5" y1="927.8" x2="310.5" y2="936" stroke="#2a2a2a" stroke-width="0.7" />
<line x1="313.2" y1="927.8" x2="313.2" y2="936" stroke="#2a2a2a" stroke-width="0.7" />
<line x1="315.9" y1="927.8" x2="315.9" y2="936" stroke="#2a2a2a" stroke-width="0.7" />
<rect x="319.5" y="919.5" width="24" height="16.5" fill="none" stroke="#2a2a2a" stroke-width="0.7" />
<line x1="324.5" y1="919.5" x2="324.5" y2="936" stroke="#2a2a2a" stroke-width="0.7" />
<line x1="327.2" y1="919.5" x2="327.2" y2="936" stroke="#2a2a2a" stroke-width="0.7" />
<line x1="329.9" y1="919.5" x2="329.9" y2="936" stroke="#2a2a2a" stroke-width="0.7" />
<line x1="332.6" y1="919.5" x2="332.6" y2="936" stroke="#2a2a2a" stroke-width="0.7" />
<line x1="335.3" y1="919.5" x2="335.3" y2="936" stroke="#2a2a2a" stroke-width="0.7" />
<line x1="338" y1="919.5" x2="338" y2="936" stroke="#2a2a2a" stroke-width="0.7" />
<line x1="340.7" y1="919.5" x2="340.7" y2="936" stroke="#2a2a2a" stroke-width="0.7" />
<line x1="319.5" y1="927.8" x2="343.5" y2="927.8" stroke="#fff" stroke-width="0.9" />
<line x1="319.5" y1="927.3" x2="343.5" y2="927.3" stroke="#2a2a2a" stroke-width="0.5" />
<line x1="319.5" y1="928.4" x2="343.5" y2="928.4" stroke="#2a2a2a" stroke-width="0.5" />
<line x1="299.9" y1="936" x2="343.5" y2="936" stroke="#1a1a1a" stroke-width="1.1" />
<line x1="321.5" y1="922" x2="321.5" y2="934" stroke="#1a1a1a" stroke-width="0.9" />
<line x1="341.8" y1="929.5" x2="341.8" y2="935" stroke="#1a1a1a" stroke-width="0.9" />
<line x1="369" y1="900.7" x2="369" y2="907.7" stroke="#2a2a2a" stroke-width="0.6" />
<line x1="392.5" y1="904.2" x2="392.5" y2="912.4" stroke="#2a2a2a" stroke-width="0.6" />
<line x1="414.2" y1="904.2" x2="414.2" y2="912.4" stroke="#2a2a2a" stroke-width="0.6" />
<line x1="349" y1="920.2" x2="356" y2="920.2" stroke="#2a2a2a" stroke-width="0.7" />
<line x1="361" y1="926.5" x2="361" y2="934" stroke="#2a2a2a" stroke-width="0.6" />
<line x1="417.3" y1="972.5" x2="417.3" y2="980.5" stroke="#1a1a1a" stroke-width="0.9" />
<line x1="363" y1="953.5" x2="369.5" y2="953.5" stroke="#2a2a2a" stroke-width="0.5" />
<text transform="translate(312.6 894.94) scale(0.92 1)" x="0" y="0" font-family="Liberation Sans, sans-serif" font-size="7.16" fill="#222" text-anchor="middle">N</text>
<text transform="translate(355.3 891.44) scale(0.92 1)" x="0" y="0" font-family="Liberation Sans, sans-serif" font-size="7.16" fill="#222" text-anchor="middle">N</text>
<text transform="translate(352.3 993.94) scale(0.92 1)" x="0" y="0" font-family="Liberation Sans, sans-serif" font-size="7.16" fill="#222" text-anchor="middle">N</text>
<text transform="translate(422.3 980.53) scale(0.92 1)" x="0" y="0" font-family="Liberation Sans, sans-serif" font-size="5.42" fill="#222" text-anchor="middle">N</text>
<text transform="translate(330.1 909.57) scale(0.92 1)" x="0" y="0" font-family="Liberation Sans, sans-serif" font-size="7.81" fill="#444" text-anchor="middle">SUB. 10</text>
<text transform="translate(401.2 936.87) scale(0.92 1)" x="0" y="0" font-family="Liberation Sans, sans-serif" font-size="7.81" fill="#444" text-anchor="middle">SUB. 10</text>
<text transform="translate(291.7 924.67) scale(0.92 1)" x="0" y="0" font-family="Liberation Sans, sans-serif" font-size="7.81" fill="#444" text-anchor="middle">SUB. 11</text>
<text transform="translate(346.4 955.57) scale(0.92 1)" x="0" y="0" font-family="Liberation Sans, sans-serif" font-size="7.81" fill="#444" text-anchor="middle">SUB. 13</text>
<line x1="300.5" y1="925" x2="305" y2="930" stroke="#2a2a2a" stroke-width="0.4" />
<circle cx="655.6" cy="953.9" r="27.1" fill="none" stroke="#444" stroke-width="0.7"/>
<circle cx="655.6" cy="953.9" r="23.6" fill="none" stroke="#444" stroke-width="0.7"/>
<polygon points="641.5,937 675.9,947.5 671.3,952.5 677.3,960.3 655.3,975.9 649.3,968.6 643.4,973.1" fill="none" stroke="#444" stroke-width="0.7" />
<polygon transform="translate(656.6 955.7) rotate(-35)" points="-5.2,4.75 -5.2,-4.75 -3,-4.75 3.2,1.6 3.2,-4.75 5.2,-4.75 5.2,4.75 3,4.75 -3.2,-1.6 -3.2,4.75" fill="none" stroke="#444" stroke-width="0.6"/>
<text x="613.9" y="900.6" font-family="Liberation Sans, sans-serif" font-size="9.4" fill="#111" textLength="71.3" lengthAdjust="spacingAndGlyphs" stroke="#111" stroke-width="0.3">ORIENTAMENTO</text>
<g filter="url(#soft)">
<polygon points="733.8,1057.6 727.7,1075.2 733.6,1071.9 738.9,1075.8 742,1060.6" fill="#8f8f8f"/>
<polygon points="743,1060.6 749.3,1076.8 752,1071.2 757.8,1073.2 751.6,1057" fill="#8f8f8f"/>
<circle cx="742.3" cy="1050.8" r="10.5" fill="#8c8c8c"/>
<circle cx="750" cy="1052.6" r="4.4" fill="#8c8c8c"/><circle cx="735" cy="1054.6" r="3.8" fill="#8c8c8c"/><circle cx="743.5" cy="1043.4" r="3.2" fill="#8c8c8c"/>
<circle cx="741.6" cy="1050.4" r="6.2" fill="#7d7d7d"/>
</g>
</svg>
</body></html>
